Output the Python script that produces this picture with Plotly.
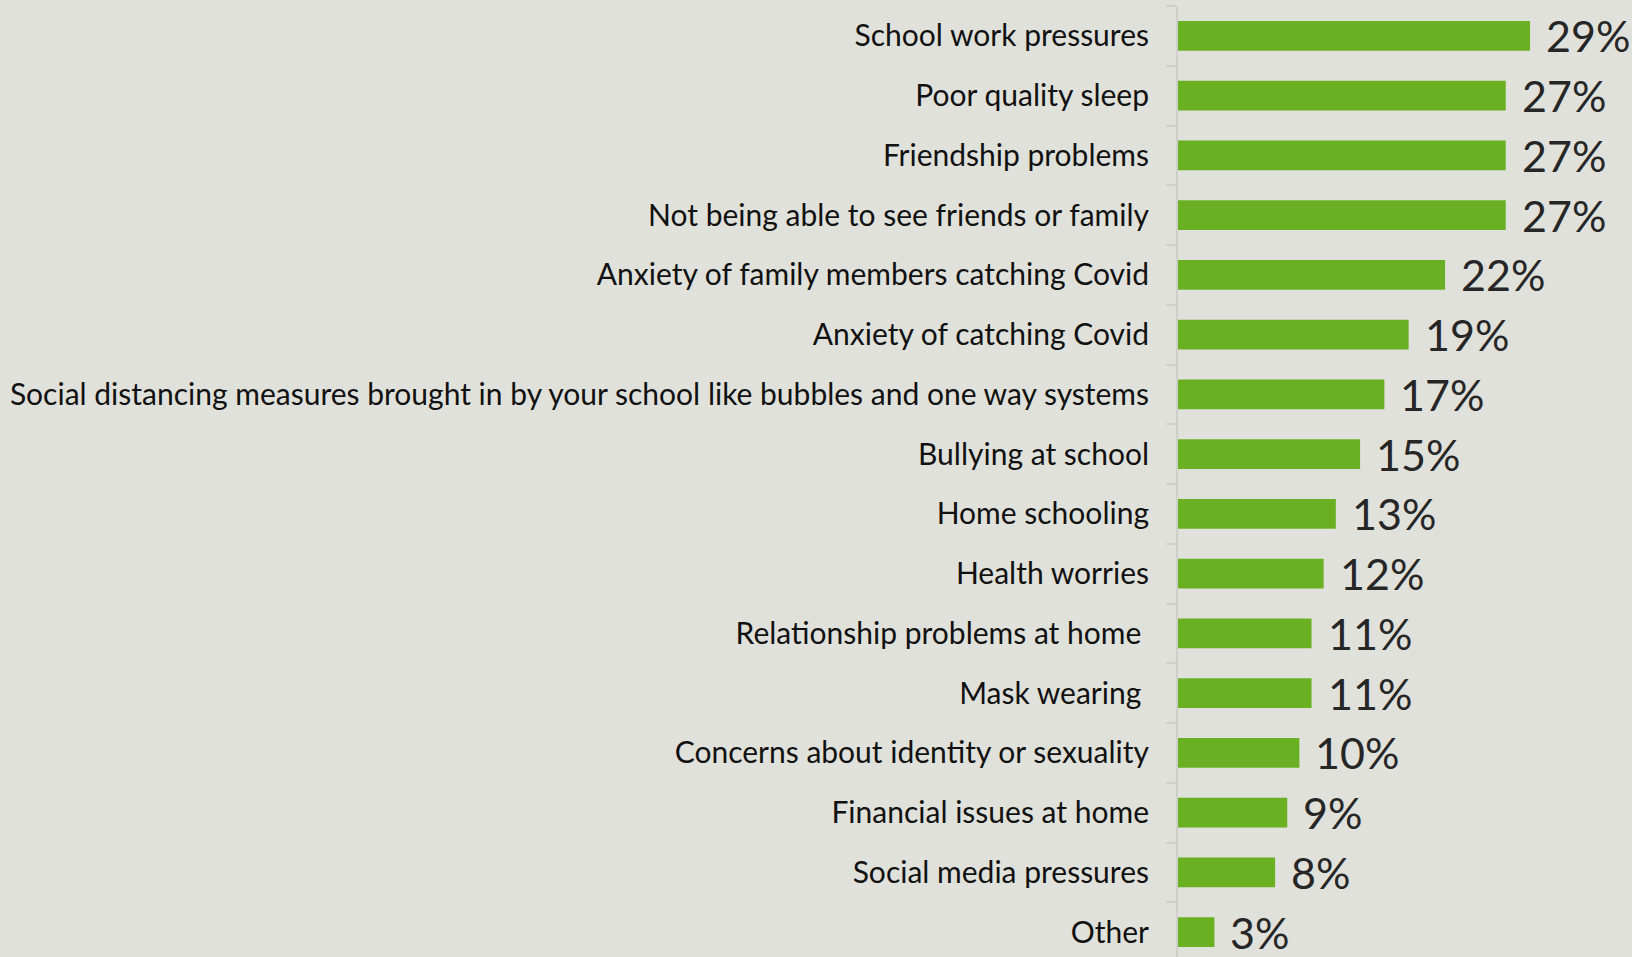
import plotly.graph_objects as go

categories = [
    "School work pressures",
    "Poor quality sleep",
    "Friendship problems",
    "Not being able to see friends or family",
    "Anxiety of family members catching Covid",
    "Anxiety of catching Covid",
    "Social distancing measures brought in by your school like bubbles and one way systems",
    "Bullying at school",
    "Home schooling",
    "Health worries",
    "Relationship problems at home ",
    "Mask wearing ",
    "Concerns about identity or sexuality",
    "Financial issues at home",
    "Social media pressures",
    "Other",
]
values = [29, 27, 27, 27, 22, 19, 17, 15, 13, 12, 11, 11, 10, 9, 8, 3]

BG = "#e0e1da"
BAR = "#6ab023"

fig = go.Figure()
fig.add_trace(go.Bar(
    x=values,
    y=categories,
    orientation="h",
    marker=dict(color=BAR, line=dict(width=0)),
    width=0.5,
    hoverinfo="skip",
))

for c, v in zip(categories, values):
    fig.add_annotation(
        x=v, y=c, text=f"{v}%", showarrow=False,
        xanchor="left", yanchor="middle", xshift=14, yshift=0,
        font=dict(family="Lato", size=43, color="#262626"),
    )

fig.update_layout(
    width=1632, height=957,
    paper_bgcolor=BG, plot_bgcolor=BG,
    margin=dict(l=1178, r=0, t=6, b=0, autoexpand=False),
    showlegend=False,
    xaxis=dict(range=[0, 37.4], visible=False, fixedrange=True),
    yaxis=dict(
        range=[15.416, -0.5],
        type="category",
        automargin=False,
        showline=True, linecolor="#cfcfcc", linewidth=2,
        ticks="outside", tickson="boundaries", ticklen=10, tickcolor="#cfcfcc", tickwidth=2,
        ticklabelstandoff=21,
        tickfont=dict(family="Lato", size=30, color="#111111"),
        showgrid=False, zeroline=False,
    ),
)

fig.write_html("out.html")
